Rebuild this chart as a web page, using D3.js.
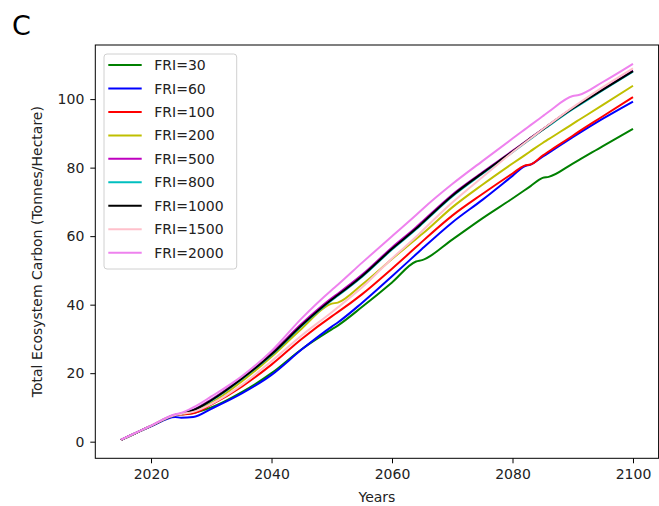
<!DOCTYPE html>
<html><head><meta charset="utf-8">
<script src="https://cdn.jsdelivr.net/npm/d3@7"></script>
<style>body{margin:0;background:#fff;} svg{display:block;}</style>
</head><body>
<svg id="chart" width="659" height="506"></svg>
<script>
const years = [2015,2020,2024,2025,2027,2030,2035,2040,2045,2050,2051,2055,2060,2064,2065,2070,2075,2080,2082,2083,2085,2086,2090,2091,2095,2100];
const fri30   = [0.5,4.6,7.8,8.0,8.4,10.0,14.4,20.0,27.0,32.8,33.9,39.3,46.5,52.6,53.0,59.0,65.2,71.0,73.4,74.6,77.0,77.3,81.2,82.2,86.3,91.3];
const fri60   = [0.5,4.5,7.2,7.0,7.2,9.6,14.0,19.5,26.9,33.6,34.8,40.5,48.3,54.7,56.3,64.0,70.6,77.6,80.4,80.9,83.2,84.3,88.9,90.0,94.3,99.3];
const fri100  = [0.5,4.6,7.7,7.9,8.3,10.8,16.0,22.5,30.0,36.6,37.8,43.0,50.5,56.8,58.4,66.0,72.3,78.3,80.6,80.9,83.5,84.7,89.3,90.5,95.0,100.6];
const fri200  = [0.5,4.6,7.8,8.1,8.8,11.3,17.5,24.8,33.0,40.3,40.6,45.8,53.3,59.2,60.6,68.4,75.0,81.2,83.6,84.8,87.2,88.3,92.8,93.9,98.3,103.9];
const fri500  = [0.5,4.6,7.8,8.2,9.3,12.3,18.5,25.8,34.4,41.9,43.2,48.7,56.7,62.6,64.2,72.1,78.6,84.9,87.4,88.7,91.2,92.4,97.4,98.5,102.9,108.3];
const fri800  = [0.5,4.6,7.8,8.2,9.1,12.0,18.2,25.3,33.8,41.3,42.6,48.1,56.1,62.0,63.6,71.6,78.2,84.5,87.1,88.4,91.0,92.2,97.1,98.2,102.6,108.0];
const fri1000 = [0.5,4.6,7.8,8.2,9.2,12.1,18.3,25.5,34.0,41.5,42.8,48.3,56.3,62.2,63.8,71.8,78.4,84.7,87.3,88.6,91.1,92.4,97.3,98.4,102.8,108.2];
const fri1500 = [0.5,4.6,7.8,8.1,8.7,11.0,16.5,23.5,31.0,37.8,39.2,45.0,53.5,59.8,61.5,69.8,77.2,84.5,87.2,88.5,91.2,92.5,97.6,98.8,103.5,109.0];
const fri2000 = [0.6,4.7,8.0,8.4,10.0,13.2,19.0,26.5,36.0,44.3,45.8,52.2,60.0,66.2,67.8,75.2,81.9,88.5,91.1,92.4,95.0,96.3,100.9,101.2,105.0,110.3];
const seriesNames = ["FRI=30","FRI=60","FRI=100","FRI=200","FRI=500","FRI=800","FRI=1000","FRI=1500","FRI=2000"];
const seriesValues = [fri30,fri60,fri100,fri200,fri500,fri800,fri1000,fri1500,fri2000];
const seriesColors = ["#008000","#0000ff","#ff0000","#bfbf00","#bf00bf","#00bfbf","#000000","#ffc0cb","#ee82ee"];
const xTicks = [2020,2040,2060,2080,2100];
const yTicks = [0,20,40,60,80,100];

const svg = d3.select("#chart");
const L = 95.3, R = 658.6, T = 45, B = 458.3;
const x = d3.scaleLinear().domain([2010.75,2104.25]).range([L,R]);
const y = d3.scaleLinear().domain([-4.85,115.8]).range([B,T]);
const font = "DejaVu Sans, sans-serif";

// panel letter
svg.append("text").attr("x",12).attr("y",35).attr("font-family",font).attr("font-size",27).attr("fill","#000").text("C");

// lines
svg.append("clipPath").attr("id","clip").append("rect").attr("x",L).attr("y",T).attr("width",R-L).attr("height",B-T);
const line = d3.line().x(d=>x(d[0])).y(d=>y(d[1])).curve(d3.curveMonotoneX);
const g = svg.append("g").attr("clip-path","url(#clip)");
seriesValues.forEach((vals,i)=>{
  g.append("path").datum(years.map((yr,j)=>[yr,vals[j]]))
   .attr("d",line).attr("fill","none").attr("stroke",seriesColors[i])
   .attr("stroke-width",2).attr("stroke-linejoin","round").attr("stroke-linecap","butt");
});

// axes
const xAxis = d3.axisBottom(x).tickValues(xTicks).tickFormat(d3.format("d")).tickSize(5).tickPadding(6);
const yAxis = d3.axisLeft(y).tickValues(yTicks).tickSize(5).tickPadding(6);
const gx = svg.append("g").attr("transform",`translate(0,${B})`).call(xAxis);
const gy = svg.append("g").attr("transform",`translate(${L},0)`).call(yAxis);
[gx,gy].forEach(a=>{
  a.select(".domain").remove();
  a.selectAll("line").attr("stroke","#000").attr("stroke-width",1);
  a.selectAll("text").attr("font-family",font).attr("font-size",14).attr("fill","#222");
});
svg.append("rect").attr("x",L).attr("y",T).attr("width",R-L).attr("height",B-T)
  .attr("fill","none").attr("stroke","#000").attr("stroke-width",1);

// axis labels
svg.append("text").attr("x",(L+R)/2).attr("y",502).attr("text-anchor","middle")
  .attr("font-family",font).attr("font-size",14).attr("fill","#222").text("Years");
svg.append("text").attr("transform",`translate(42,${(T+B)/2}) rotate(-90)`).attr("text-anchor","middle")
  .attr("font-family",font).attr("font-size",14).attr("fill","#222").text("Total Ecosystem Carbon (Tonnes/Hectare)");

// legend
const lg = svg.append("g");
lg.append("rect").attr("x",104).attr("y",54).attr("width",132.7).attr("height",215).attr("rx",3)
  .attr("fill","#fff").attr("fill-opacity",0.8).attr("stroke","#d0d0d0").attr("stroke-width",1);
seriesNames.forEach((name,i)=>{
  const yy = 65 + i*23.46;
  lg.append("line").attr("x1",108.3).attr("x2",141.7).attr("y1",yy).attr("y2",yy)
    .attr("stroke",seriesColors[i]).attr("stroke-width",2);
  lg.append("text").attr("x",154.3).attr("y",yy).attr("dy","0.36em")
    .attr("font-family",font).attr("font-size",14).attr("fill","#222").text(name);
});
</script>
</body></html>
